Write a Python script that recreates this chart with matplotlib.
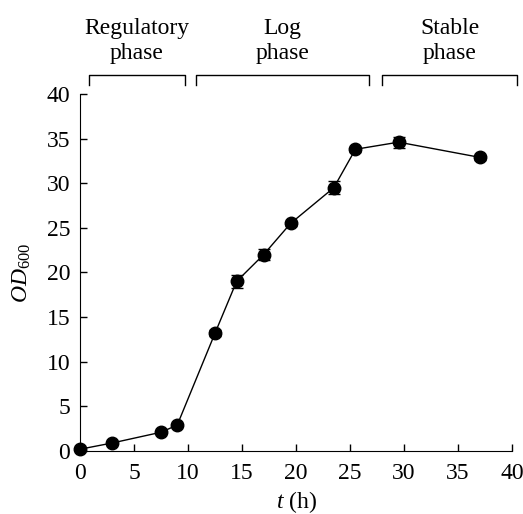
import matplotlib
matplotlib.use('Agg')
import matplotlib.pyplot as plt

plt.rcParams['font.family'] = ['Liberation Serif', 'DejaVu Serif']
plt.rcParams['mathtext.fontset'] = 'custom'
plt.rcParams['mathtext.rm'] = 'Liberation Serif'
plt.rcParams['mathtext.it'] = 'Liberation Serif:italic'
plt.rcParams['font.size'] = 17
plt.rcParams['xtick.direction'] = 'in'
plt.rcParams['ytick.direction'] = 'in'

# data
time_h = [0, 3, 7.5, 9, 12.5, 14.5, 17, 19.5, 23.5, 25.5, 29.5, 37]
od600 = [0.2, 0.9, 2.1, 2.9, 13.2, 19.0, 22.0, 25.5, 29.5, 33.8, 34.6, 32.9]
od_err = [0.2, 0.2, 0.2, 0.2, 0.3, 0.7, 0.6, 0.3, 0.7, 0.3, 0.6, 0.3]

phase_names = ['Regulatory\nphase', 'Log\nphase', 'Stable\nphase']
phase_start = [0.8, 10.7, 28.0]
phase_end = [9.7, 26.8, 40.5]

fig = plt.figure(figsize=(5.23, 5.14), dpi=100)
ax = fig.add_axes([0.153, 0.1226, 0.826, 0.6946])

ax.errorbar(time_h, od600, yerr=od_err, color='black', lw=1.0, marker='o',
            ms=9, capsize=4, elinewidth=1.0, capthick=1.0, clip_on=False, zorder=3)

ax.set_xlim(0, 40)
ax.set_ylim(0, 40)
ax.set_xticks(range(0, 41, 5))
ax.set_yticks(range(0, 41, 5))
ax.tick_params(length=5, width=1)
ax.tick_params(axis='x', pad=9)
ax.tick_params(axis='y', pad=7)
ax.spines['top'].set_visible(False)
ax.spines['right'].set_visible(False)

ax.set_xlabel(r'$t$ (h)', labelpad=3)
ax.set_ylabel(r'$OD_{600}$', labelpad=10)

# phase brackets above the axes
trans = ax.get_xaxis_transform()
for name, x0, x1 in zip(phase_names, phase_start, phase_end):
    ax.plot([x0, x0, x1, x1], [1.025, 1.053, 1.053, 1.025], color='black',
            lw=1, transform=trans, clip_on=False)
    ax.text((x0 + x1) / 2, 1.085, name, transform=trans, ha='center',
            va='bottom', linespacing=1.25)

fig.savefig('out.png', dpi=100)
